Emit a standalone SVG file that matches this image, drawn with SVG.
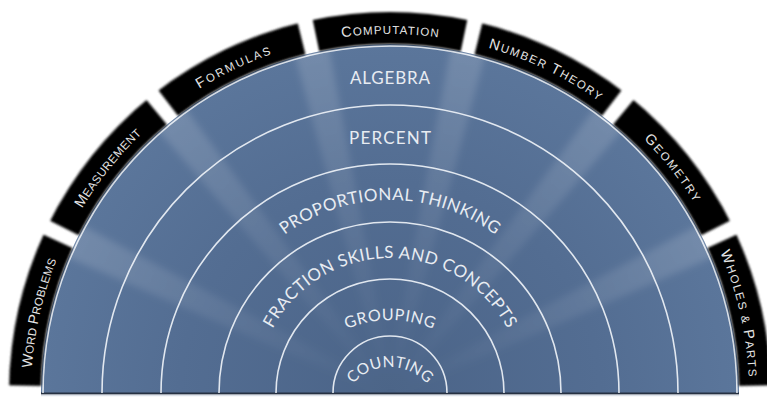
<svg xmlns="http://www.w3.org/2000/svg" xmlns:xlink="http://www.w3.org/1999/xlink" width="767" height="399" viewBox="0 0 767 399">
<style>
.ring{fill:none;stroke:#eef2f7;stroke-width:1.6;opacity:0.92}
.lbl{font-family:Lato,"Open Sans","Liberation Sans",sans-serif;font-size:17px;fill:#e8ecf2;}
.tabtxt{font-family:"Liberation Sans",Arial,sans-serif;font-size:11.5px;fill:#e4e4e4;}
.big{font-size:14.5px}
.tab{fill:#050505;filter:url(#soft)}
.beam{fill:url(#beamGrad)}
</style>
<defs>
<radialGradient id="blueGrad" gradientUnits="userSpaceOnUse" cx="390" cy="393" r="350">
<stop offset="0" stop-color="#4b6488"/>
<stop offset="0.6" stop-color="#536d92"/>
<stop offset="1" stop-color="#5b769b"/>
</radialGradient>
<radialGradient id="beamGrad" gradientUnits="userSpaceOnUse" cx="390" cy="393" r="350">
<stop offset="0" stop-color="#ffffff" stop-opacity="0"/>
<stop offset="0.35" stop-color="#ffffff" stop-opacity="0.04"/>
<stop offset="1" stop-color="#ffffff" stop-opacity="0.15"/>
</radialGradient>
<filter id="soft" x="-10%" y="-10%" width="120%" height="120%">
<feGaussianBlur stdDeviation="0.9"/>
</filter>
<filter id="beamBlur" x="-10%" y="-10%" width="120%" height="120%">
<feGaussianBlur stdDeviation="3.5"/>
</filter>
<clipPath id="semi">
<path d="M41,393 A349,349 0 0 1 739,393 Z"/>
</clipPath>
<path id="tabShape" d="M312.74,19.92 A381,381 0 0 1 467.26,19.92 L460.77,51.25 A349,349 0 0 0 319.23,51.25 Z"/>
<polygon id="beamShape" points="386,393 372,30 408,30 394,393"/>
<path id="tabArc" d="M31,393 A359,359 0 0 1 749,393"/>
<path id="arcProp" d="M213,377 A177,177 0 0 1 567,377"/>
<path id="arcFrac" d="M257,391 A133,133 0 0 1 523,391"/>
<path id="arcGroup" d="M282,428 A108,108 0 0 1 498,428"/>
<path id="arcCount" d="M341,416 A49,49 0 0 1 439,416"/>
</defs>

<rect width="767" height="399" fill="#ffffff"/>

<g id="background">
<path d="M41,393 A349,349 0 0 1 739,393 Z" fill="url(#blueGrad)"/>
<g clip-path="url(#semi)">
<g filter="url(#beamBlur)">
<use xlink:href="#beamShape" class="beam" transform="rotate(64.29 390 393)"/>
<use xlink:href="#beamShape" class="beam" transform="rotate(38.57 390 393)"/>
<use xlink:href="#beamShape" class="beam" transform="rotate(12.86 390 393)"/>
<use xlink:href="#beamShape" class="beam" transform="rotate(-12.86 390 393)"/>
<use xlink:href="#beamShape" class="beam" transform="rotate(-38.57 390 393)"/>
<use xlink:href="#beamShape" class="beam" transform="rotate(-64.29 390 393)"/>
</g>
</g>
<line x1="41" y1="393.5" x2="739" y2="393.5" stroke="#263142" stroke-width="2"/>
<line x1="41" y1="395.5" x2="739" y2="395.5" stroke="#dde2e9" stroke-width="1.5"/>
</g>

<g id="rings">
<path class="ring" d="M43,393 A347,347 0 0 1 737,393"/>
<path class="ring" d="M102,393 A288,288 0 0 1 678,393"/>
<path class="ring" d="M161,393 A229,229 0 0 1 619,393"/>
<path class="ring" d="M219,393 A171,171 0 0 1 561,393"/>
<path class="ring" d="M276,393 A114,114 0 0 1 504,393"/>
<path class="ring" d="M333,393 A57,57 0 0 1 447,393"/>
</g>

<g id="ring-algebra"><text class="lbl" x="390" y="83.5" text-anchor="middle" textLength="80">ALGEBRA</text></g>
<g id="ring-percent"><text class="lbl" x="390" y="144" text-anchor="middle" textLength="82">PERCENT</text></g>
<g id="ring-proportional"><text class="lbl"><textPath xlink:href="#arcProp" startOffset="50%" text-anchor="middle" textLength="226">PROPORTIONAL THINKING</textPath></text></g>
<g id="ring-fraction"><text class="lbl"><textPath xlink:href="#arcFrac" startOffset="50%" text-anchor="middle" textLength="288">FRACTION SKILLS AND CONCEPTS</textPath></text></g>
<g id="ring-grouping"><text class="lbl" style="font-size:16px"><textPath xlink:href="#arcGroup" startOffset="50%" text-anchor="middle" textLength="89">GROUPING</textPath></text></g>
<g id="ring-counting"><text class="lbl" style="font-size:15.5px"><textPath xlink:href="#arcCount" startOffset="50%" text-anchor="middle" textLength="84">COUNTING</textPath></text></g>

<g id="tab-word-problems">
<use xlink:href="#tabShape" class="tab" transform="rotate(-77.143 390 393)"/>
<text class="tabtxt"><textPath xlink:href="#tabArc" startOffset="7.143%" text-anchor="middle" textLength="111"><tspan class="big">W</tspan>ORD <tspan class="big">P</tspan>ROBLEMS</textPath></text>
</g>
<g id="tab-measurement">
<use xlink:href="#tabShape" class="tab" transform="rotate(-51.429 390 393)"/>
<text class="tabtxt"><textPath xlink:href="#tabArc" startOffset="21.429%" text-anchor="middle" textLength="96"><tspan class="big">M</tspan>EASUREMENT</textPath></text>
</g>
<g id="tab-formulas">
<use xlink:href="#tabShape" class="tab" transform="rotate(-25.714 390 393)"/>
<text class="tabtxt"><textPath xlink:href="#tabArc" startOffset="35.714%" text-anchor="middle" textLength="80"><tspan class="big">F</tspan>ORMULAS</textPath></text>
</g>
<g id="tab-computation">
<use xlink:href="#tabShape" class="tab"/>
<text class="tabtxt"><textPath xlink:href="#tabArc" startOffset="50%" text-anchor="middle" textLength="97"><tspan class="big">C</tspan>OMPUTATION</textPath></text>
</g>
<g id="tab-number-theory">
<use xlink:href="#tabShape" class="tab" transform="rotate(25.714 390 393)"/>
<text class="tabtxt"><textPath xlink:href="#tabArc" startOffset="64.286%" text-anchor="middle" textLength="123"><tspan class="big">N</tspan>UMBER <tspan class="big">T</tspan>HEORY</textPath></text>
</g>
<g id="tab-geometry">
<use xlink:href="#tabShape" class="tab" transform="rotate(51.429 390 393)"/>
<text class="tabtxt"><textPath xlink:href="#tabArc" startOffset="78.571%" text-anchor="middle" textLength="81"><tspan class="big">G</tspan>EOMETRY</textPath></text>
</g>
<g id="tab-wholes-parts">
<use xlink:href="#tabShape" class="tab" transform="rotate(77.143 390 393)"/>
<text class="tabtxt"><textPath xlink:href="#tabArc" startOffset="92.857%" text-anchor="middle" textLength="128"><tspan class="big">W</tspan>HOLES &amp; <tspan class="big">P</tspan>ARTS</textPath></text>
</g>
</svg>
